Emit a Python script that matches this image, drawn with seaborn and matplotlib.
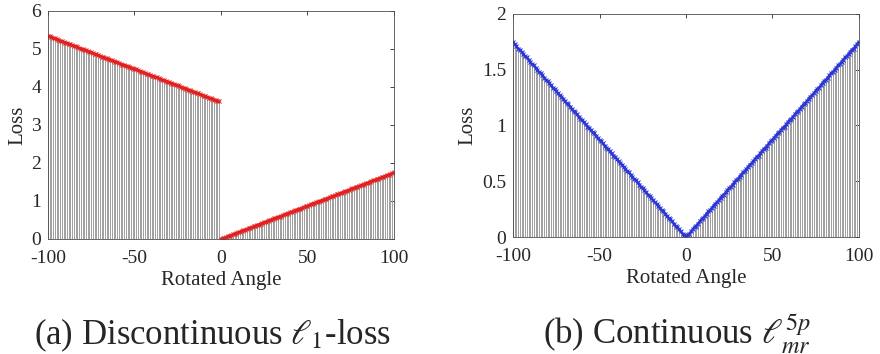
import numpy as np
import pandas as pd
import matplotlib.pyplot as plt
import seaborn as sns
from matplotlib.ticker import FormatStrFormatter

# Rotated angle in degrees, one stem per degree
angles = list(range(-100, 101))

# Loss, angle -100 .. -1 (discontinuous l1, left branch)
disc_left = [5.35, 5.33, 5.31, 5.29, 5.28, 5.26, 5.24, 5.22, 5.21, 5.19,
             5.17, 5.15, 5.14, 5.12, 5.10, 5.08, 5.07, 5.05, 5.03, 5.01,
             5.00, 4.98, 4.96, 4.94, 4.93, 4.91, 4.89, 4.87, 4.86, 4.84,
             4.82, 4.80, 4.79, 4.77, 4.75, 4.73, 4.72, 4.70, 4.68, 4.66,
             4.65, 4.63, 4.61, 4.59, 4.58, 4.56, 4.54, 4.53, 4.51, 4.49,
             4.47, 4.46, 4.44, 4.42, 4.40, 4.39, 4.37, 4.35, 4.33, 4.32,
             4.30, 4.28, 4.26, 4.25, 4.23, 4.21, 4.19, 4.18, 4.16, 4.14,
             4.12, 4.11, 4.09, 4.07, 4.05, 4.04, 4.02, 4.00, 3.98, 3.97,
             3.95, 3.93, 3.91, 3.90, 3.88, 3.86, 3.84, 3.83, 3.81, 3.79,
             3.77, 3.76, 3.74, 3.72, 3.70, 3.69, 3.67, 3.65, 3.63, 3.62]

# Loss, angle 0 .. 100 (rising branch, same in both panels)
rise = [0.00, 0.02, 0.03, 0.05, 0.07, 0.09, 0.10, 0.12, 0.14, 0.16, 0.17,
        0.19, 0.21, 0.23, 0.24, 0.26, 0.28, 0.30, 0.31, 0.33, 0.35,
        0.37, 0.38, 0.40, 0.42, 0.44, 0.45, 0.47, 0.49, 0.51, 0.52,
        0.54, 0.56, 0.58, 0.59, 0.61, 0.63, 0.65, 0.66, 0.68, 0.70,
        0.72, 0.73, 0.75, 0.77, 0.79, 0.80, 0.82, 0.84, 0.86, 0.87,
        0.89, 0.91, 0.93, 0.94, 0.96, 0.98, 0.99, 1.01, 1.03, 1.05,
        1.06, 1.08, 1.10, 1.12, 1.13, 1.15, 1.17, 1.19, 1.20, 1.22,
        1.24, 1.26, 1.27, 1.29, 1.31, 1.33, 1.34, 1.36, 1.38, 1.40,
        1.41, 1.43, 1.45, 1.47, 1.48, 1.50, 1.52, 1.54, 1.55, 1.57,
        1.59, 1.61, 1.62, 1.64, 1.66, 1.68, 1.69, 1.71, 1.73, 1.75]

disc_loss = disc_left + rise
cont_loss = rise[:0:-1] + rise

captions = [r'(a) Discontinuous $\ell_1$-loss', r'(b) Continuous $\ell_{mr}^{5p}$']

sns.set_style('white')
plt.rcParams['font.family'] = 'Liberation Serif'
plt.rcParams['mathtext.fontset'] = 'stix'
plt.rcParams['axes.unicode_minus'] = False

df = pd.DataFrame({'angle': angles, 'disc': disc_loss, 'cont': cont_loss})

fig = plt.figure(figsize=(8.8, 3.54), dpi=100)
ax1 = fig.add_axes([0.0545, 0.325, 0.393, 0.644])
ax2 = fig.add_axes([0.583, 0.3305, 0.393, 0.630])

# left panel: two separate branches
neg = df[df.angle < 0]
pos = df[df.angle >= 0]
ax1.vlines(df.angle, 0, df.disc, color='0.62', lw=0.7)
sns.lineplot(data=neg, x='angle', y='disc', ax=ax1, color='#e41f1f', lw=1.8,
             marker='x', markersize=3, markeredgecolor='#e41f1f')
sns.lineplot(data=pos, x='angle', y='disc', ax=ax1, color='#e41f1f', lw=1.8,
             marker='x', markersize=3, markeredgecolor='#e41f1f')
ax1.set_ylim(0, 6)
ax1.set_yticks(range(0, 7))

# right panel
ax2.vlines(df.angle, 0, df.cont, color='0.62', lw=0.7)
sns.lineplot(data=df, x='angle', y='cont', ax=ax2, color='#2b35d8', lw=1.8,
             marker='x', markersize=3, markeredgecolor='#2b35d8')
ax2.set_ylim(0, 2)
ax2.set_yticks([0, 0.5, 1, 1.5, 2])
ax2.yaxis.set_major_formatter(FormatStrFormatter('%g'))

for ax, cap, cx in zip([ax1, ax2], captions, [0.241, 0.769]):
    ax.set_xlim(-100, 100)
    ax.set_xticks([-100, -50, 0, 50, 100])
    ax.set_xlabel('Rotated Angle', fontsize=15, labelpad=3)
    ax.set_ylabel('Loss', fontsize=15, labelpad=3)
    ax.tick_params(direction='in', top=True, right=True, labelsize=14,
                   length=3, width=0.6)
    ax.tick_params(axis='x', pad=8)
    ax.tick_params(axis='y', pad=5)
    for s in ax.spines.values():
        s.set_linewidth(0.6)
        s.set_color('0.3')
    fig.text(cx, 0.028, cap, ha='center', va='baseline', fontsize=25,
             family='Liberation Serif')

fig.savefig('out.png', dpi=100)
